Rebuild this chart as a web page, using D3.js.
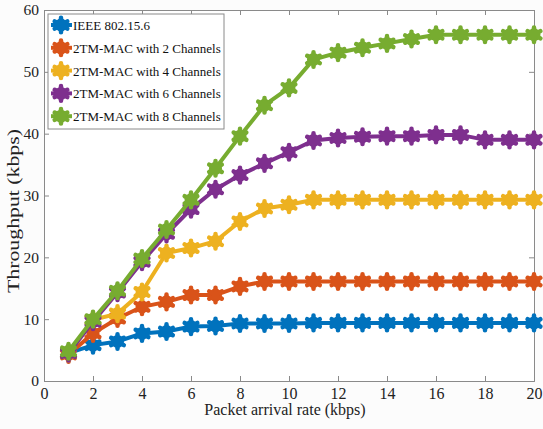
<!DOCTYPE html>
<html><head><meta charset="utf-8">
<script src="https://cdn.jsdelivr.net/npm/d3@7"></script>
<style>html,body{margin:0;padding:0;background:#fcfcfc;}</style>
</head><body>
<svg id="c" width="543" height="429"></svg>
<script>
const xValues = [1,2,3,4,5,6,7,8,9,10,11,12,13,14,15,16,17,18,19,20];
const seriesNames = ["IEEE 802.15.6","2TM-MAC with 2 Channels","2TM-MAC with 4 Channels","2TM-MAC with 6 Channels","2TM-MAC with 8 Channels"];
const ieee = [4.5,5.8,6.4,7.7,8.0,8.8,8.9,9.3,9.3,9.3,9.4,9.4,9.4,9.4,9.4,9.4,9.4,9.4,9.4,9.4];
const ch2  = [4.3,7.7,10.1,12.0,12.8,13.9,13.9,15.3,16.1,16.1,16.1,16.1,16.1,16.1,16.1,16.1,16.1,16.1,16.1,16.1];
const ch4  = [4.5,9.9,10.9,14.4,20.7,21.5,22.6,25.8,27.9,28.5,29.3,29.3,29.3,29.3,29.3,29.3,29.3,29.3,29.3,29.3];
const ch6  = [4.5,9.6,14.3,19.3,23.8,27.8,31.0,33.3,35.2,37.0,38.9,39.3,39.5,39.6,39.6,39.8,39.8,39.0,39.0,39.0];
const ch8  = [4.8,10.0,14.6,19.8,24.5,29.3,34.4,39.6,44.6,47.4,52.0,53.1,53.9,54.6,55.3,56.0,56.0,56.0,56.0,56.0];
const colors = ["#0072BD","#D95319","#EDB120","#7E2F8E","#77AC30"];
const xTicks = [0,2,4,6,8,10,12,14,16,18,20];
const yTicks = [0,10,20,30,40,50,60];
const xLabel = "Packet arrival rate (kbps)";
const yLabel = "Throughput (kbps)";

const allSeries = [ieee,ch2,ch4,ch6,ch8];
const svg = d3.select("#c");
const L=44,R=534,T=10,B=381;
const x = d3.scaleLinear().domain([0,20]).range([L,R]);
const y = d3.scaleLinear().domain([0,60]).range([B,T]);
const font = "'Liberation Serif','Times New Roman',serif";

svg.append("rect").attr("x",L).attr("y",T).attr("width",R-L).attr("height",B-T).attr("fill","#fff");

// axes
const gx = svg.append("g").attr("transform",`translate(0,${B})`)
  .call(d3.axisBottom(x).tickValues(xTicks).tickSize(-5).tickPadding(7));
const gxt = svg.append("g").attr("transform",`translate(0,${T})`)
  .call(d3.axisTop(x).tickValues(xTicks).tickSize(-5).tickFormat(""));
const gy = svg.append("g").attr("transform",`translate(${L},0)`)
  .call(d3.axisLeft(y).tickValues(yTicks).tickSize(-5).tickPadding(5));
const gyr = svg.append("g").attr("transform",`translate(${R},0)`)
  .call(d3.axisRight(y).tickValues(yTicks).tickSize(-5).tickFormat(""));
[gx,gxt,gy,gyr].forEach(g=>{
  g.selectAll("path").attr("stroke","#8a8a8a").attr("stroke-width",1);
  g.selectAll("line").attr("stroke","#8a8a8a");
  g.selectAll("text").attr("font-family",font).attr("fill","#222");
});
gx.selectAll("text").attr("font-size",16);
gy.selectAll("text").attr("font-size",15.5);

svg.append("text").attr("x",285).attr("y",415).attr("text-anchor","middle")
  .attr("font-family",font).attr("font-size",16).attr("fill","#222").text(xLabel);
svg.append("text").attr("transform",`translate(19,211) rotate(-90)`).attr("text-anchor","middle")
  .attr("font-family",font).attr("font-size",16).attr("fill","#222")
  .attr("textLength",164).attr("lengthAdjust","spacingAndGlyphs").text(yLabel);

const line = d3.line().x((d,i)=>x(xValues[i])).y(d=>y(d));
const ast = d3.symbol().type(d3.symbolAsterisk).size(150);
function marker(g,cx,cy,col){
  g.append("circle").attr("cx",cx).attr("cy",cy).attr("r",6.5).attr("fill",col);
  g.append("path").attr("d",ast()).attr("transform",`translate(${cx},${cy})`)
    .attr("fill","none").attr("stroke",col).attr("stroke-width",4.5).attr("stroke-linecap","round");
}
allSeries.forEach((s,k)=>{
  const g = svg.append("g");
  g.append("path").datum(s).attr("d",line).attr("fill","none").attr("stroke",colors[k]).attr("stroke-width",4);
  s.forEach((v,i)=>marker(g,x(xValues[i]),y(v),colors[k]));
});

// legend
const lg = svg.append("g");
lg.append("rect").attr("x",48).attr("y",14).attr("width",176).attr("height",115)
  .attr("fill","#fff").attr("stroke","#8a8a8a").attr("stroke-width",1);
seriesNames.forEach((n,k)=>{
  const yy = 25 + k*22.8;
  lg.append("line").attr("x1",51).attr("x2",72).attr("y1",yy).attr("y2",yy).attr("stroke",colors[k]).attr("stroke-width",4);
  marker(lg,61,yy,colors[k]);
  lg.append("text").attr("x",73).attr("y",yy+5).attr("font-family",font).attr("font-size",13).attr("fill","#111").text(n);
});
</script>
</body></html>
